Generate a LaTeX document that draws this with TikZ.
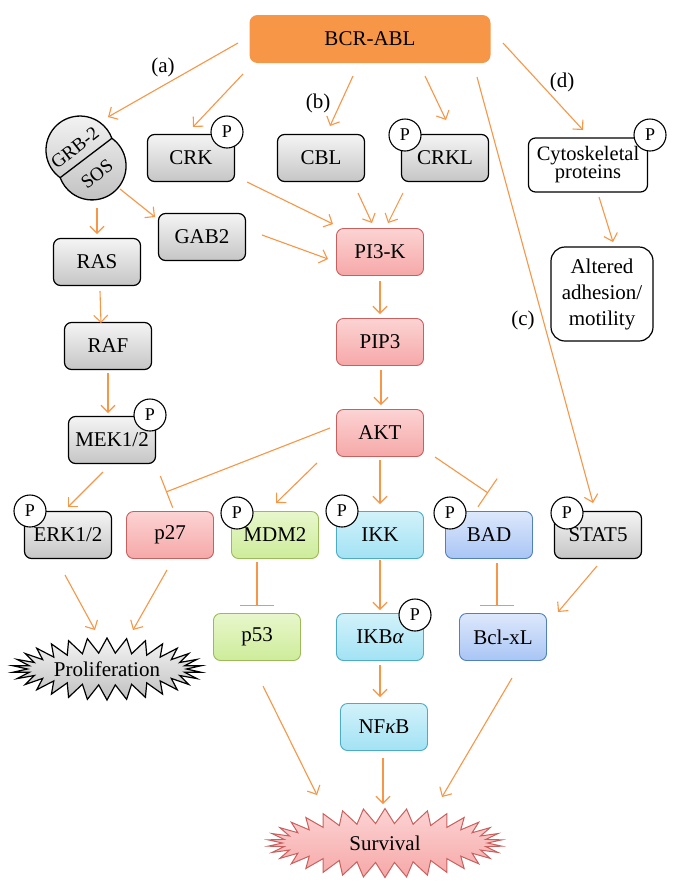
\documentclass[tikz,border=0pt]{standalone}
\usepackage{fontspec}
\setmainfont{Liberation Serif}
\usetikzlibrary{arrows.meta,calc,shapes.symbols}
\definecolor{orng}{HTML}{F79646}
\definecolor{redb}{HTML}{C9605E}
\definecolor{redt}{HTML}{FCD3D3}
\definecolor{redl}{HTML}{F6A8A8}
\definecolor{grnb}{HTML}{9BBB59}
\definecolor{grnt}{HTML}{E8F7CC}
\definecolor{grnl}{HTML}{CDEC9A}
\definecolor{cyab}{HTML}{4BACC6}
\definecolor{cyat}{HTML}{D2F2FA}
\definecolor{cyal}{HTML}{A2E2F4}
\definecolor{blub}{HTML}{4F81BD}
\definecolor{blut}{HTML}{DDE8FC}
\definecolor{blul}{HTML}{A9C5F5}
\begin{document}
\begin{tikzpicture}[x=1pt,y=-1pt,
  nbox/.style={rounded corners=7pt, minimum width=87pt, minimum height=47pt, inner sep=0pt, font=\fontsize{21}{23}\selectfont, line width=0.9pt},
  graybox/.style={nbox, draw=black, line width=1.2pt, top color=gray!8, bottom color=gray!45},
  redbox/.style={nbox, draw=redb, top color=redt, bottom color=redl},
  grnbox/.style={nbox, draw=grnb, top color=grnt, bottom color=grnl},
  cyabox/.style={nbox, draw=cyab, top color=cyat, bottom color=cyal},
  blubox/.style={nbox, draw=blub, top color=blut, bottom color=blul},
  whitebox/.style={nbox, draw=black, line width=1.2pt, fill=white, align=center},
  pcirc/.style={circle, draw=black, fill=white, line width=1.1pt, minimum size=32pt, inner sep=0pt, font=\fontsize{18}{18}\selectfont},
  arr/.style={draw=orng, line width=1.1pt, -{Straight Barb[length=7pt,width=14pt]}},
  inh/.style={draw=orng, line width=1.1pt, -{Bar[width=34pt]}},
  lbl/.style={font=\fontsize{21}{23}\selectfont, inner sep=0pt},
  rtxt/.style={rotate=38, font=\fontsize{19}{21}\selectfont, inner sep=0pt},
  burst/.style={starburst, starburst points=30, starburst point height=15pt, random starburst=0, inner sep=0pt, font=\fontsize{21}{23}\selectfont}
]
\useasboundingbox (0,0) rectangle (681,884);

% top
\node[nbox, fill=orng, rounded corners=8pt, minimum width=241pt, minimum height=48pt] (bcr) at (370,39) {BCR-ABL};

% GRB-2 / SOS
\node[circle, minimum size=68pt, inner sep=0pt] (grb2) at (80,150) {};
\node[circle, minimum size=68pt, inner sep=0pt] (sos) at (92,166) {};
\path[draw=black, line width=1.3pt, top color=gray!8, bottom color=gray!50]
  (111.9,138.3) arc[start angle=54.3, end angle=-159.8, radius=34pt]
  arc[start angle=-125.7, end angle=-339.8, radius=34pt] -- cycle;
\draw[line width=1.3pt] (111.9,138.3) -- (60.1,177.7);
\node[rtxt] (grbtxt) at (75,148) {GRB-2};
\node[rtxt] (sostxt) at (97,174) {SOS};

% second row
\node[graybox] (crk) at (191,158) {CRK};
\node[graybox] (cbl) at (321,158) {CBL};
\node[graybox] (crkl) at (445,158) {CRKL};
\node[whitebox, minimum width=119pt, minimum height=54pt, font=\fontsize{20.5}{18}\selectfont] (cyto) at (588,165) {Cytoskeletal\\proteins};
\node[pcirc] (pcrk) at (227,132) {P};
\node[pcirc] (pcrkl) at (405,135) {P};
\node[pcirc] (pcyto) at (650,135) {P};

\node[graybox] (gab2) at (202,237) {GAB2};
\node[graybox] (ras) at (97,262) {RAS};
\node[graybox] (raf) at (108,346) {RAF};
\node[graybox] (mek) at (112,440) {MEK1/2};
\node[pcirc] (pmek) at (150,415) {P};

\node[redbox] (pi3k) at (380,252) {PI3-K};
\node[redbox] (pip3) at (380,342) {PIP3};
\node[redbox] (akt) at (380,433) {AKT};

\node[whitebox, rounded corners=14pt, minimum width=102pt, minimum height=94pt, font=\fontsize{21}{26}\selectfont] (alt) at (602,294) {Altered\\adhesion/\\motility};

% row of targets
\node[graybox] (erk) at (68,535) {ERK1/2};
\node[redbox] (p27) at (170,535) {p27};
\node[grnbox] (mdm2) at (275,535) {MDM2};
\node[cyabox] (ikk) at (380,535) {IKK};
\node[blubox] (bad) at (489,535) {BAD};
\node[graybox] (stat5) at (598,535) {STAT5};
\node[pcirc] (perk) at (30,511) {P};
\node[pcirc] (pmdm2) at (237,513) {P};
\node[pcirc] (pikk) at (342,511) {P};
\node[pcirc] (pbad) at (450,513) {P};
\node[pcirc] (pstat5) at (567,513) {P};

\node[grnbox] (p53) at (257,637) {p53};
\node[cyabox] (ikba) at (380,637) {IKB{\itshape α}};
\node[blubox] (bclxl) at (503,637) {Bcl-xL};
\node[pcirc] (pikba) at (415,615) {P};

\node[cyabox] (nfkb) at (384,727) {NF{\itshape κ}B};

\node[burst, draw=black, line width=1.2pt, top color=gray!8, bottom color=gray!50, minimum width=189pt, minimum height=62pt] (prolif) at (107,669) {Proliferation};
\node[burst, draw=redb, line width=1pt, top color=redt, bottom color=redl, starburst points=34, minimum width=235pt, minimum height=69pt] (surv) at (385,843) {Survival};

% labels
\node[lbl] (la) at (163,67) {(a)};
\node[lbl] (lb) at (318,103) {(b)};
\node[lbl] (lc) at (523,320) {(c)};
\node[lbl] (ld) at (562,82) {(d)};

% connectors
\draw[arr] ($(bcr)+(-132,4)$) -- ($(grb2)+(28,-33)$);
\draw[arr] ($(bcr)+(-127,35)$) -- ($(crk)+(2,-31)$);
\draw[arr] ($(bcr)+(-17,37)$) -- ($(cbl)+(9,-32)$);
\draw[arr] ($(bcr)+(55,37)$) -- ($(crkl)+(1,-38)$);
\draw[arr] ($(bcr)+(133,4)$) -- ($(cyto)+(-5,-35)$);
\draw[arr] ($(bcr)+(107,38)$) -- ($(stat5)+(-5,-32)$);
\draw[arr] ($(sos)+(5,42)$) -- ($(ras)+(0,-28)$);
\draw[arr] ($(sos)+(28,23)$) -- ($(gab2)+(-47,-20)$);
\draw[arr] ($(crk)+(56,24)$) -- ($(pi3k)+(-47,-28)$);
\draw[arr] ($(cbl)+(37,35)$) -- ($(pi3k)+(-8,-29)$);
\draw[arr] ($(crkl)+(-42,35)$) -- ($(pi3k)+(8,-29)$);
\draw[arr] ($(gab2)+(60,-2)$) -- ($(pi3k)+(-52,7)$);
\draw[arr] ($(ras)+(3,29)$) -- ($(raf)+(-7,-23)$);
\draw[arr] ($(raf)+(0,27)$) -- ($(mek)+(-4,-27)$);
\draw[arr] ($(mek)+(-9,32)$) -- ($(erk)+(0,-28)$);
\draw[arr] ($(pi3k)+(0,29)$) -- ($(pip3)+(0,-28)$);
\draw[arr] ($(pip3)+(1,28)$) -- ($(akt)+(1,-28)$);
\draw[inh] ($(akt)+(-50,-5)$) -- ($(p27)+(-4,-43)$);
\draw[arr] ($(akt)+(-63,30)$) -- ($(mdm2)+(1,-32)$);
\draw[arr] ($(akt)+(0,27)$) -- ($(ikk)+(0,-31)$);
\draw[inh] ($(akt)+(55,24)$) -- ($(bad)+(-1,-42)$);
\draw[arr] ($(cyto)+(11,32)$) -- ($(alt)+(11,-52)$);
\draw[arr] ($(erk)+(-3,40)$) -- ($(prolif)+(-12,-39)$);
\draw[arr] ($(p27)+(-3,35)$) -- ($(prolif)+(26,-39)$);
\draw[inh] ($(mdm2)+(-18,27)$) -- ($(p53)+(0,-31)$);
\draw[arr] ($(ikk)+(0,25)$) -- ($(ikba)+(0,-27)$);
\draw[inh] ($(bad)+(8,28)$) -- ($(bclxl)+(-6,-31)$);
\draw[arr] ($(stat5)+(-1,31)$) -- ($(bclxl)+(55,-25)$);
\draw[arr] ($(ikba)+(0,28)$) -- ($(nfkb)+(-4,-30)$);
\draw[arr] ($(nfkb)+(-1,31)$) -- ($(surv)+(-2,-39)$);
\draw[arr] ($(p53)+(6,49)$) -- ($(surv)+(-68,-48)$);
\draw[arr] ($(bclxl)+(9,41)$) -- ($(surv)+(57,-46)$);
\end{tikzpicture}
\end{document}
